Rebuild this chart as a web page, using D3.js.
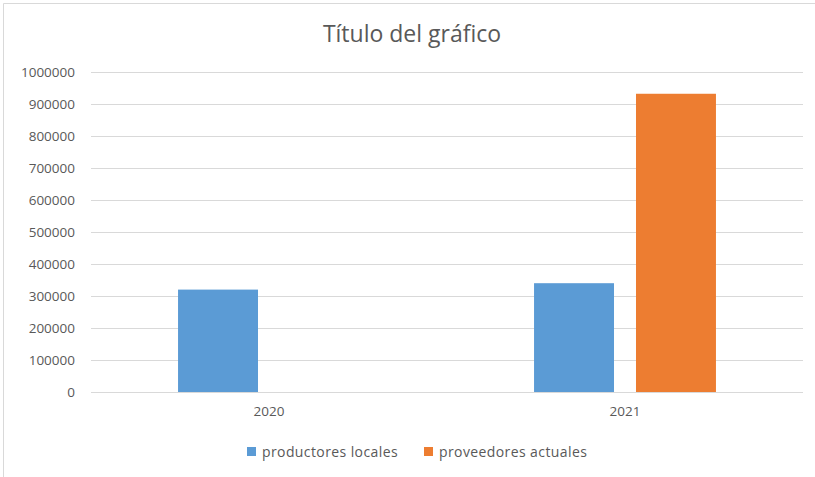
<!DOCTYPE html>
<html>
<head>
<meta charset="utf-8">
<script src="https://cdn.jsdelivr.net/npm/d3@7"></script>
<style>
  body { margin: 0; background: #fff; }
  text { font-family: "Open Sans", "Noto Sans", sans-serif; fill: #595959; }
</style>
</head>
<body>
<script>
// Data
const years = ["2020", "2021"];
const seriesNames = ["productores locales", "proveedores actuales"];
const productoresLocales = [320000, 340000];
const proveedoresActuales = [0, 932000];
const yTicks = [0, 100000, 200000, 300000, 400000, 500000, 600000, 700000, 800000, 900000, 1000000];
const colors = ["#5B9BD5", "#ED7D31"];

// Constants
const width = 815;
const height = 477;
const margin = {top: 72, right: 12, bottom: 85, left: 91};

const svg = d3.select("body")
    .append("svg")
    .attr("width", width)
    .attr("height", height);

// chart frame (only top and left visible in the crop)
svg.append("path")
    .attr("d", `M3.5,${height} V3.5 H${width}`)
    .attr("fill", "none")
    .attr("stroke", "#d9d9d9")
    .attr("stroke-width", 1);

// Title
svg.append("text")
    .attr("x", 412)
    .attr("y", 42)
    .attr("text-anchor", "middle")
    .style("font-size", "23px")
    .text("Título del gráfico");

const x = d3.scaleBand()
    .domain(years)
    .range([margin.left, width - margin.right])
    .paddingInner(0.489)
    .paddingOuter(0.2445);

const xSeries = d3.scaleBand()
    .domain(seriesNames)
    .range([0, x.bandwidth()])
    .paddingInner(0.2157);

const y = d3.scaleLinear()
    .domain([0, 1000000])
    .range([height - margin.bottom, margin.top]);

// gridlines
svg.append("g")
    .selectAll("line")
    .data(yTicks)
    .enter()
    .append("line")
    .attr("x1", margin.left)
    .attr("x2", width - margin.right)
    .attr("y1", d => Math.round(y(d)) + 0.5)
    .attr("y2", d => Math.round(y(d)) + 0.5)
    .attr("stroke", "#d9d9d9")
    .attr("stroke-width", 1);

// y axis labels
const yAxis = d3.axisLeft(y)
    .tickValues(yTicks)
    .tickFormat(d3.format("d"))
    .tickSize(0)
    .tickPadding(0);

svg.append("g")
    .attr("transform", `translate(${margin.left - 16},0)`)
    .call(yAxis)
    .call(g => g.select(".domain").remove())
    .selectAll("text")
    .attr("fill", "#595959")
    .style("font-size", "13.5px")
    .style("font-family", "'Open Sans', sans-serif");

// x axis labels
const xAxis = d3.axisBottom(x)
    .tickSize(0)
    .tickPadding(0);

svg.append("g")
    .attr("transform", `translate(0,${height - margin.bottom + 14})`)
    .call(xAxis)
    .call(g => g.select(".domain").remove())
    .selectAll("text")
    .attr("fill", "#595959")
    .style("font-size", "13.5px")
    .style("font-family", "'Open Sans', sans-serif");

// bars
const seriesValues = [productoresLocales, proveedoresActuales];

const groups = svg.append("g")
    .selectAll("g")
    .data(years)
    .enter()
    .append("g")
    .attr("transform", d => `translate(${x(d)},0)`);

groups.selectAll("rect")
    .data((d, i) => seriesNames.map((s, j) => ({series: s, value: seriesValues[j][i], idx: j})))
    .enter()
    .append("rect")
    .attr("x", d => xSeries(d.series))
    .attr("y", d => y(d.value))
    .attr("width", xSeries.bandwidth())
    .attr("height", d => y(0) - y(d.value))
    .attr("fill", d => colors[d.idx]);

// legend
const legendItems = [{name: seriesNames[0], x: 247}, {name: seriesNames[1], x: 424}];

const legend = svg.append("g")
    .selectAll("g")
    .data(legendItems)
    .enter()
    .append("g")
    .attr("transform", d => `translate(${d.x},447)`);

legend.append("rect")
    .attr("width", 9)
    .attr("height", 9)
    .attr("fill", (d, i) => colors[i]);

legend.append("text")
    .attr("x", 15)
    .attr("y", 9.5)
    .style("font-size", "14px")
    .style("letter-spacing", "0.4px")
    .text(d => d.name);
</script>
</body>
</html>
